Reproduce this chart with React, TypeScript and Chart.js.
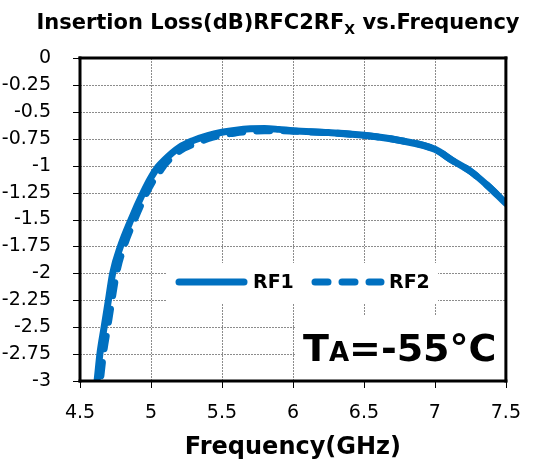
import React, { useEffect, useRef } from 'react';
import { Chart, registerables } from 'chart.js';

Chart.register(...registerables);

// ---- data ----
const RF1_FREQ = [4.6, 4.62, 4.64, 4.67, 4.7, 4.73, 4.785, 4.86, 4.945, 5.0, 5.05, 5.1, 5.2, 5.3, 5.4, 5.5, 5.6, 5.7, 5.8, 5.9, 6.0, 6.25, 6.5, 6.75, 7.0, 7.125, 7.25, 7.375, 7.5];
const RF1_LOSS = [-3.2, -3.0, -2.75, -2.5, -2.25, -2.0, -1.75, -1.5, -1.25, -1.11, -1.01, -0.94, -0.83, -0.765, -0.72, -0.69, -0.67, -0.658, -0.655, -0.663, -0.675, -0.693, -0.718, -0.765, -0.848, -0.953, -1.052, -1.19, -1.35];
const RF2_FREQ = [4.625, 4.643, 4.665, 4.695, 4.725, 4.757, 4.81, 4.885, 4.97, 5.02, 5.07, 5.1, 5.2, 5.3, 5.4, 5.5, 5.6, 5.7, 5.8, 5.9, 6.0, 6.25, 6.5, 6.75, 7.0, 7.125, 7.25, 7.375, 7.5];
const RF2_LOSS = [-3.2, -3.0, -2.75, -2.5, -2.25, -2.0, -1.75, -1.5, -1.25, -1.13, -1.04, -0.985, -0.865, -0.8, -0.75, -0.715, -0.695, -0.682, -0.676, -0.676, -0.68, -0.695, -0.718, -0.765, -0.848, -0.953, -1.052, -1.19, -1.35];
const SERIES_NAMES = ['RF1', 'RF2'];

const X_TICKS = [4.5, 5, 5.5, 6, 6.5, 7, 7.5];
const X_TICK_LABELS = ['4.5', '5', '5.5', '6', '6.5', '7', '7.5'];
const Y_TICKS = [0, -0.25, -0.5, -0.75, -1, -1.25, -1.5, -1.75, -2, -2.25, -2.5, -2.75, -3];
const Y_TICK_LABELS = ['0', '-0.25', '-0.5', '-0.75', '-1', '-1.25', '-1.5', '-1.75', '-2', '-2.25', '-2.5', '-2.75', '-3'];

const TITLE_MAIN = 'Insertion Loss(dB)RFC2RF';
const TITLE_SUB = 'X';
const TITLE_END = ' vs.Frequency';
const X_TITLE = 'Frequency(GHz)';
const NOTE_T = 'T';
const NOTE_SUB = 'A';
const NOTE_REST = '=-55°C';

const BLUE = '#0070C0';
const GRID = '#8c8c8c';
const FONT = "'DejaVu Sans', Verdana, sans-serif";

const labelFor = (ticks: number[], labels: string[], v: number) => {
  const i = ticks.findIndex((t) => Math.abs(t - v) < 1e-6);
  return i >= 0 ? labels[i] : '';
};

// dotted grid lines and tick marks, placed through the chart's own scales (drawn as fills)
const gridPlugin = {
  id: 'dottedGrid',
  beforeDatasetsDraw(chart: any) {
    const { ctx, chartArea: a, scales } = chart;
    ctx.save();
    ctx.fillStyle = GRID;
    scales.x.ticks.forEach((tk: any) => {
      const x = Math.round(scales.x.getPixelForValue(tk.value));
      for (let y = a.top; y < a.bottom; y += 3) ctx.fillRect(x, y, 1, 2);
    });
    scales.y.ticks.forEach((tk: any) => {
      const y = Math.round(scales.y.getPixelForValue(tk.value));
      for (let x = a.left; x < a.right; x += 3) ctx.fillRect(x, y, 2, 1);
    });
    ctx.fillStyle = '#000';
    scales.x.ticks.forEach((tk: any) => {
      const x = Math.round(scales.x.getPixelForValue(tk.value));
      ctx.fillRect(x, a.bottom, 1, 7);
    });
    scales.y.ticks.forEach((tk: any) => {
      const y = Math.round(scales.y.getPixelForValue(tk.value));
      ctx.fillRect(a.left - 7, y, 7, 1);
    });
    ctx.restore();
  },
};

const overlay = {
  id: 'overlay',
  afterDatasetsDraw(chart: any) {
    const { ctx, chartArea: a } = chart;
    ctx.save();

    // legend
    const ly = a.top + 224;
    ctx.fillStyle = '#fff';
    ctx.fillRect(a.left + 86, ly - 19, 272, 40);
    ctx.strokeStyle = BLUE;
    ctx.lineWidth = 7;
    ctx.lineCap = 'round';
    ctx.setLineDash([]);
    ctx.beginPath();
    ctx.moveTo(a.left + 99, ly);
    ctx.lineTo(a.left + 164, ly);
    ctx.stroke();
    ctx.setLineDash([13, 14]);
    ctx.lineDashOffset = 0;
    ctx.beginPath();
    ctx.moveTo(a.left + 235, ly);
    ctx.lineTo(a.left + 301, ly);
    ctx.stroke();
    ctx.setLineDash([]);
    ctx.lineCap = 'butt';
    ctx.fillStyle = '#000';
    ctx.font = `bold 19px ${FONT}`;
    ctx.textBaseline = 'middle';
    ctx.textAlign = 'left';
    ctx.fillText(SERIES_NAMES[0], a.left + 173, ly + 1);
    ctx.fillText(SERIES_NAMES[1], a.left + 309, ly + 1);

    // annotation
    ctx.fillStyle = '#fff';
    ctx.fillRect(a.left + 216, a.top + 258, a.right - a.left - 216, a.bottom - a.top - 258);
    ctx.fillStyle = '#000';
    ctx.textBaseline = 'alphabetic';
    const nb = a.top + 303;
    let nx = a.left + 223;
    ctx.font = `bold 38px ${FONT}`;
    ctx.fillText(NOTE_T, nx, nb);
    nx += ctx.measureText(NOTE_T).width;
    ctx.font = `bold 26px ${FONT}`;
    ctx.fillText(NOTE_SUB, nx, nb);
    nx += ctx.measureText(NOTE_SUB).width;
    ctx.font = `bold 38px ${FONT}`;
    ctx.fillText(NOTE_REST, nx, nb);

    // frame
    ctx.fillStyle = '#000';
    const t = 3;
    ctx.fillRect(a.left - t / 2, a.top - t / 2, a.right - a.left + t, t);
    ctx.fillRect(a.left - t / 2, a.bottom - t / 2, a.right - a.left + t, t);
    ctx.fillRect(a.left - t / 2, a.top - t / 2, t, a.bottom - a.top + t);
    ctx.fillRect(a.right - t / 2, a.top - t / 2, t, a.bottom - a.top + t);

    // title
    ctx.font = `bold 21px ${FONT}`;
    const w1 = ctx.measureText(TITLE_MAIN).width;
    const w3 = ctx.measureText(TITLE_END).width;
    ctx.font = `bold 14px ${FONT}`;
    const w2 = ctx.measureText(TITLE_SUB).width;
    let tx = 278 - (w1 + w2 + w3) / 2;
    const tb = 29;
    ctx.font = `bold 21px ${FONT}`;
    ctx.fillText(TITLE_MAIN, tx, tb);
    tx += w1;
    ctx.font = `bold 14px ${FONT}`;
    ctx.fillText(TITLE_SUB, tx, tb + 5);
    tx += w2;
    ctx.font = `bold 21px ${FONT}`;
    ctx.fillText(TITLE_END, tx, tb);

    // x axis title
    ctx.font = `bold 24px ${FONT}`;
    ctx.textAlign = 'center';
    ctx.fillText(X_TITLE, (a.left + a.right) / 2, 454);

    ctx.restore();
  },
};

export default function App() {
  const ref = useRef<HTMLCanvasElement | null>(null);
  useEffect(() => {
    document.body.style.margin = '0';
    const canvas = ref.current;
    if (!canvas) return;
    const chart = new Chart(canvas, {
      type: 'line',
      data: {
        datasets: [
          {
            label: SERIES_NAMES[0],
            data: RF1_FREQ.map((x, i) => ({ x, y: RF1_LOSS[i] })),
            borderColor: BLUE,
            borderWidth: 7,
            pointRadius: 0,
            cubicInterpolationMode: 'monotone',
            borderCapStyle: 'round',
            clip: 0,
            fill: false,
          },
          {
            label: SERIES_NAMES[1],
            data: RF2_FREQ.map((x, i) => ({ x, y: RF2_LOSS[i] })),
            borderColor: BLUE,
            borderWidth: 7,
            borderDash: [13, 14],
            borderDashOffset: 0,
            borderCapStyle: 'round',
            pointRadius: 0,
            cubicInterpolationMode: 'monotone',
            clip: 0,
            fill: false,
          },
        ],
      },
      options: {
        animation: false,
        responsive: false,
        devicePixelRatio: 1,
        layout: { padding: { top: 58, right: 27, left: 0, bottom: 0 } },
        plugins: { legend: { display: false }, title: { display: false }, tooltip: { enabled: false } },
        scales: {
          x: {
            type: 'linear',
            min: 4.5,
            max: 7.5,
            afterBuildTicks: (s: any) => {
              s.ticks = X_TICKS.map((v) => ({ value: v }));
            },
            afterFit: (s: any) => {
              s.height = 78;
            },
            ticks: {
              color: '#000',
              font: { family: FONT, size: 19 },
              padding: 13,
              maxRotation: 0,
              autoSkip: false,
              callback: (v: any) => labelFor(X_TICKS, X_TICK_LABELS, Number(v)),
            },
            grid: { display: true, drawOnChartArea: false, drawTicks: true, tickLength: 8, tickWidth: 0, lineWidth: 0 },
            border: { display: false },
          },
          y: {
            type: 'linear',
            min: -3,
            max: 0,
            afterBuildTicks: (s: any) => {
              s.ticks = Y_TICKS.map((v) => ({ value: v }));
            },
            afterFit: (s: any) => {
              s.width = 80;
            },
            ticks: {
              color: '#000',
              font: { family: FONT, size: 19 },
              padding: 21,
              autoSkip: false,
              callback: (v: any) => labelFor(Y_TICKS, Y_TICK_LABELS, Number(v)),
            },
            grid: { display: false },
            border: { display: false },
          },
        },
      },
      plugins: [gridPlugin, overlay],
    });
    return () => chart.destroy();
  }, []);
  return (
    <div style={{ position: 'absolute', left: 0, top: 0, width: 534, height: 459 }}>
      <canvas ref={ref} width={534} height={459} style={{ width: 534, height: 459, display: 'block' }} />
    </div>
  );
}
